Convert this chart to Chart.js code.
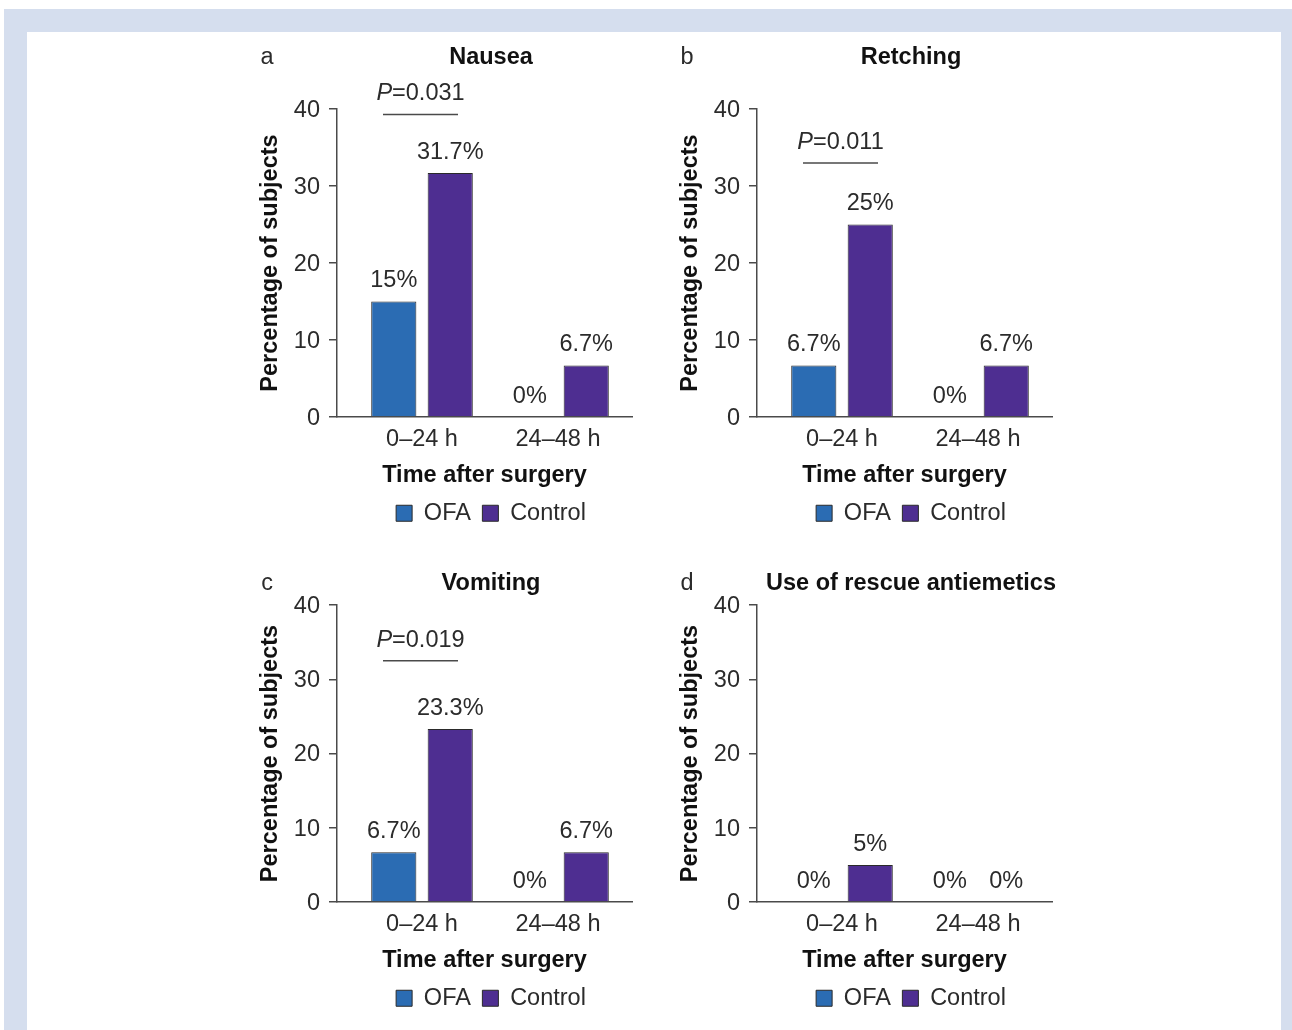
<!DOCTYPE html>
<html>
<head>
<meta charset="utf-8">
<script src="https://cdn.jsdelivr.net/npm/chart.js@4.4.1/dist/chart.umd.min.js"></script>
<style>
  html, body { margin: 0; padding: 0; background: #fff; }
  body { width: 1292px; height: 1030px; position: relative; overflow: hidden; }
  #frame { position: absolute; left: 4px; top: 9px; width: 1288px; height: 1021px; background: #d5deee; }
  #sheet { position: absolute; left: 27px; top: 32px; width: 1254px; height: 998px; background: #fff; }
  canvas { position: absolute; }
</style>
</head>
<body>
<div id="frame"></div>
<div id="sheet"></div>
<canvas id="panelA" width="500" height="502" style="left:241px;top:33px"></canvas>
<canvas id="panelB" width="500" height="502" style="left:661px;top:33px"></canvas>
<canvas id="panelC" width="500" height="461" style="left:241px;top:559px"></canvas>
<canvas id="panelD" width="500" height="461" style="left:661px;top:559px"></canvas>
<script>
// data
const timeLabels = ['0–24 h', '24–48 h'];
const seriesNames = ['OFA', 'Control'];
const panelLetters = ['a', 'b', 'c', 'd'];
const panelTitles = ['Nausea', 'Retching', 'Vomiting', 'Use of rescue antiemetics'];

const nauseaOFA = [15, 0];
const nauseaControl = [31.7, 6.7];
const retchingOFA = [6.7, 0];
const retchingControl = [25, 6.7];
const vomitingOFA = [6.7, 0];
const vomitingControl = [23.3, 6.7];
const rescueOFA = [0, 0];
const rescueControl = [5, 0];

const pValues = ['0.031', '0.011', '0.019', null];
const pBarLevel = [39.3, 33, 32.5, null];   // where the significance line sits (y units)

// styling
const FAMILY = "'Liberation Sans', Arial, Helvetica, sans-serif";
const FS = 23.5;
const TEXT = '#2b2b2b';
const AXIS = '#4a4a4a';
const OFA_COLOR = '#2b6cb3';
const CONTROL_COLOR = '#4e2e91';
const EDGE = '#2a2a2a';

Chart.defaults.font.family = FAMILY;
Chart.defaults.font.size = FS;
Chart.defaults.color = TEXT;

const boldFont = { family: FAMILY, size: FS, weight: 'bold' };

const annotate = {
    id: 'annotate',
    afterDatasetsDraw(chart, args, opts) {
        const { ctx, chartArea, scales: { x, y } } = chart;
        ctx.save();
        ctx.fillStyle = TEXT;
        ctx.textAlign = 'center';
        ctx.textBaseline = 'middle';
        ctx.font = FS + 'px ' + FAMILY;

        // value labels above every bar
        chart.data.datasets.forEach((ds, i) => {
            chart.getDatasetMeta(i).data.forEach((bar, j) => {
                ctx.fillText(ds.data[j].y + '%', bar.x, bar.y - 20.5);
            });
        });

        // panel letter, level with the title
        ctx.fillText(opts.letter, chartArea.left - 70, 24.5);

        // P value with its line
        if (opts.p) {
            const cx = x.getPixelForValue(0) - 1.5;
            const ly = y.getPixelForValue(opts.level);
            ctx.strokeStyle = AXIS;
            ctx.lineWidth = 1.5;
            ctx.beginPath();
            ctx.moveTo(cx - 37.5, ly);
            ctx.lineTo(cx + 37.5, ly);
            ctx.stroke();

            const ty = ly - 20.5;
            const rest = '=' + opts.p;
            ctx.font = 'italic ' + FS + 'px ' + FAMILY;
            const wP = ctx.measureText('P').width;
            ctx.font = FS + 'px ' + FAMILY;
            const wR = ctx.measureText(rest).width;
            const sx = cx - (wP + wR) / 2;
            ctx.textAlign = 'left';
            ctx.font = 'italic ' + FS + 'px ' + FAMILY;
            ctx.fillText('P', sx, ty);
            ctx.font = FS + 'px ' + FAMILY;
            ctx.fillText(rest, sx + wP, ty);
        }
        ctx.restore();
    }
};

function makePanel(canvasId, k, ofa, control, titleGap) {
    const toPoints = arr => arr.map((v, i) => ({ x: i, y: v }));
    return new Chart(document.getElementById(canvasId), {
        type: 'bar',
        data: {
            datasets: [{
                label: seriesNames[0],
                data: toPoints(ofa),
                backgroundColor: OFA_COLOR,
                borderColor: EDGE,
                borderWidth: 1,
                yAxisID: 'y'
            }, {
                label: seriesNames[1],
                data: toPoints(control),
                backgroundColor: CONTROL_COLOR,
                borderColor: EDGE,
                borderWidth: 1,
                yAxisID: 'y'
            }]
        },
        options: {
            responsive: false,
            animation: false,
            devicePixelRatio: 1,
            categoryPercentage: 0.83,
            barPercentage: 0.8,
            layout: { padding: 0 },
            scales: {
                x: {
                    type: 'linear',
                    min: -0.625,
                    max: 1.544,
                    offset: false,
                    afterBuildTicks: s => { s.ticks = timeLabels.map((t, i) => ({ value: i })); },
                    ticks: {
                        autoSkip: false,
                        maxRotation: 0,
                        padding: 8,
                        color: TEXT,
                        callback: v => timeLabels[v]
                    },
                    grid: { display: false, drawTicks: false },
                    border: { display: true, color: AXIS, width: 1.5 },
                    title: { display: true, text: 'Time after surgery', font: boldFont, color: '#111', padding: 0 },
                    afterFit: s => { s.height = 73; }
                },
                y: {
                    min: 0,
                    max: 40,
                    ticks: { stepSize: 10, padding: 9, color: TEXT, labelOffset: 1.5 },
                    grid: { drawOnChartArea: false, drawTicks: true, tickLength: 8, color: AXIS, lineWidth: 1.5 },
                    border: { display: true, color: AXIS, width: 1.5 },
                    title: { display: true, text: 'Percentage of subjects', font: boldFont, color: '#111', padding: { top: 15, bottom: 0 } },
                    afterFit: s => { s.width = 96; }
                },
                pad: {
                    type: 'linear',
                    axis: 'y',
                    position: 'right',
                    display: true,
                    grid: { display: false },
                    border: { display: false },
                    ticks: { display: false },
                    afterFit: s => { s.width = 109; }
                }
            },
            plugins: {
                title: {
                    display: true,
                    text: panelTitles[k],
                    font: boldFont,
                    color: '#111',
                    padding: { top: 10, bottom: titleGap }
                },
                legend: {
                    position: 'bottom',
                    labels: { boxWidth: 16, boxHeight: 16, padding: 11.5, color: TEXT, font: { size: FS } }
                },
                tooltip: { enabled: false },
                annotate: { letter: panelLetters[k], p: pValues[k], level: pBarLevel[k] }
            }
        },
        plugins: [annotate]
    });
}

makePanel('panelA', 0, nauseaOFA, nauseaControl, 37.8);
makePanel('panelB', 1, retchingOFA, retchingControl, 37.8);
makePanel('panelC', 2, vomitingOFA, vomitingControl, 7.8);
makePanel('panelD', 3, rescueOFA, rescueControl, 7.8);
</script>
</body>
</html>
